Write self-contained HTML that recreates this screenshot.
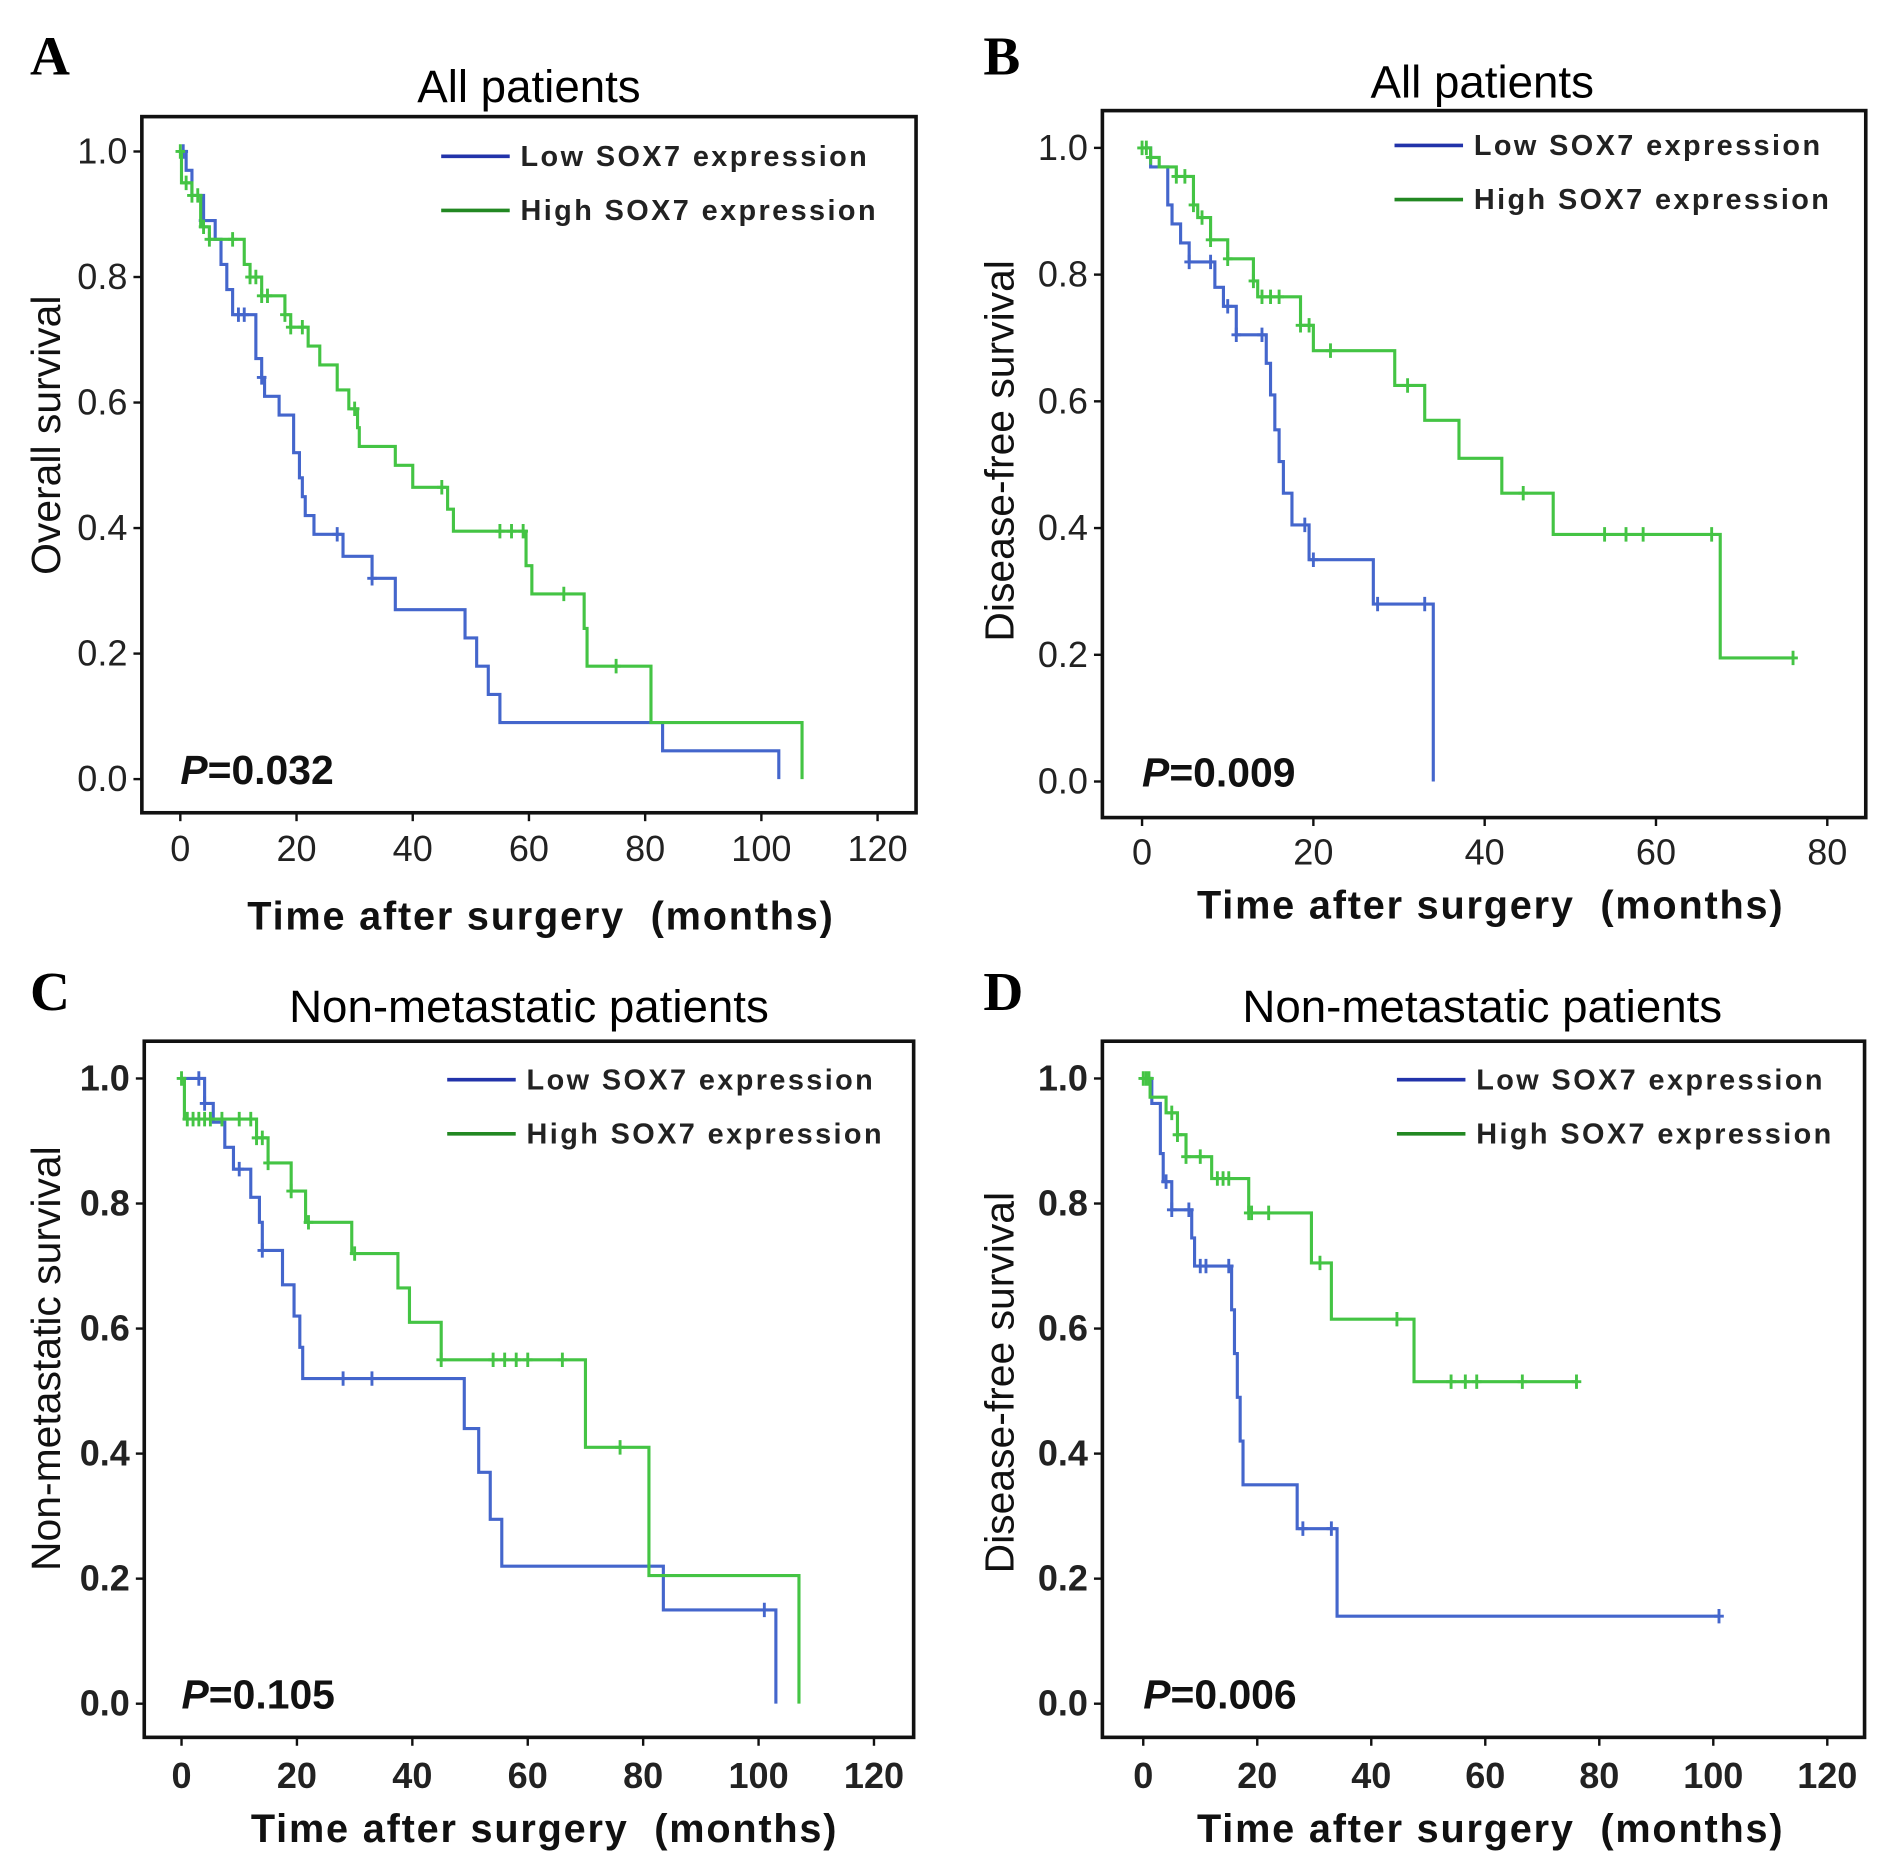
<!DOCTYPE html>
<html><head><meta charset="utf-8"><style>
html,body{margin:0;padding:0;background:#fff}
svg{display:block}
text{font-family:"Liberation Sans",sans-serif}
</style></head><body>
<svg id="fig" width="1885" height="1866" viewBox="0 0 1568 1552" preserveAspectRatio="none" xmlns="http://www.w3.org/2000/svg"></svg>
<script>
// ---- Panel A data ----
const aLowT=[0,1,2,4,6,7,8,9,13,14,14.5,17,19.5,20.5,21,21.5,23,28,33,37,49,51,53,55,83,103];
const aLowS=[1,0.97,0.93,0.89,0.86,0.82,0.78,0.74,0.67,0.64,0.61,0.58,0.52,0.48,0.45,0.42,0.39,0.355,0.32,0.27,0.225,0.18,0.135,0.09,0.045,0];
const aLowC=[0.5,4,10,11,14,27,33];
const aHighT=[0,0.2,2,3.5,5,11,12,14,18,19,22,24,27,29,30.5,30.8,37,40,46,47,59.5,60.5,69.5,70,81,107];
const aHighS=[1,0.95,0.93,0.88,0.86,0.82,0.8,0.77,0.74,0.72,0.69,0.66,0.62,0.59,0.56,0.53,0.5,0.465,0.43,0.395,0.34,0.295,0.24,0.18,0.09,0];
const aHighC=[0,1,2,3,4,5,9,12,13,14,15,18,19,21,30,45,55,57,59,66,75];
// ---- Panel B data ----
const bLowT=[0,1,3,3.5,4.5,5.5,8.5,9.5,11,14.5,15,15.5,16,16.5,17.5,19.5,27,34];
const bLowS=[1,0.97,0.91,0.88,0.85,0.82,0.78,0.75,0.705,0.66,0.61,0.555,0.505,0.455,0.405,0.35,0.28,0];
const bLowC=[5.5,8,10,11,14,19,20,27.5,33];
const bHighT=[0,1,2,4,6,6.5,8,10,13,13.5,18.5,20,29.5,33,37,42,48,67.5];
const bHighS=[1,0.985,0.97,0.955,0.91,0.89,0.855,0.825,0.79,0.765,0.72,0.68,0.625,0.57,0.51,0.455,0.39,0.195];
const bHighC=[0,0.5,1,4,5,6,7,8,10,13,14,15,16,18.5,19.5,22,31,44.5,54,56.5,58.5,66.5,76];
// ---- Panel C data ----
const cLowT=[0,4,5.5,7.5,9,12,13.5,14,17.5,19.5,20.5,21,49,51.5,53.5,55.5,83.5,103];
const cLowS=[1,0.96,0.93,0.89,0.855,0.81,0.77,0.725,0.67,0.62,0.57,0.52,0.44,0.37,0.295,0.22,0.15,0];
const cLowC=[3,4,10,14,28,33,101];
const cHighT=[0,0.5,13,15,19,21.5,29.5,37.5,39.5,45,70,81,107];
const cHighS=[1,0.935,0.905,0.865,0.82,0.77,0.72,0.665,0.61,0.55,0.41,0.205,0];
const cHighC=[0,1,2,3,4,5,7,10,12,13,14,15,19,22,30,45,54,56,58,60,66,76];
// ---- Panel D data ----
const dLowT=[0,1.5,3,3.5,5,8.5,9,15.5,16,16.5,17,17.5,27,34];
const dLowS=[1,0.96,0.88,0.835,0.79,0.745,0.7,0.63,0.56,0.49,0.42,0.35,0.28,0.14];
const dLowC=[4,5,8,10,11,15,28,33,101];
const dHighT=[0,1.2,4,6,7.5,12,18.5,29.5,33,47.5];
const dHighS=[1,0.97,0.945,0.91,0.875,0.84,0.785,0.705,0.615,0.515];
const dHighC=[0,0.5,1,5,6,7.5,10,13,14,15,18.5,19,22,31,44.5,54,56.5,58.5,66.5,76];
// ---- tick labels ----
const yTicks=[0,0.2,0.4,0.6,0.8,1.0];
const xTicks120=[0,20,40,60,80,100,120];
const xTicks80=[0,20,40,60,80];

const NS="http://www.w3.org/2000/svg";
const svg=document.getElementById('fig');
function mk(tag,attrs,parent,txt){const e=document.createElementNS(NS,tag);for(const k in attrs)e.setAttribute(k,attrs[k]);if(txt!==undefined)e.textContent=txt;(parent||svg).appendChild(e);return e;}

const panels=[
 {id:'a',letter:'A',title:'All patients',ylab:'Overall survival',p:'=0.032',box:[118,97,762,676],x0:150,x1:730,xmax:120,y1:126,y0:648,xt:xTicks120,bold:false,
  low:[aLowT,aLowS,aLowC],high:[aHighT,aHighS,aHighC],endLow:103,endHigh:107,leg:[367,130],tx:440,ty:85,ylx:50,yly:362,xlx:450,xly:773,lx:25,ly:62,tkY:716},
 {id:'b',letter:'B',title:'All patients',ylab:'Disease-free survival',p:'=0.009',box:[917,92,1552,680],x0:950,x1:1520,xmax:80,y1:123,y0:650,xt:xTicks80,bold:false,
  low:[bLowT,bLowS,bLowC],high:[bHighT,bHighS,bHighC],endLow:34,endHigh:76,leg:[1160,121],tx:1233,ty:81,ylx:843,yly:375,xlx:1240,xly:764,lx:818,ly:62,tkY:719},
 {id:'c',letter:'C',title:'Non-metastatic patients',ylab:'Non-metastatic survival',p:'=0.105',box:[120,866,760,1445],x0:151,x1:727,xmax:120,y1:897,y0:1417,xt:xTicks120,bold:true,
  low:[cLowT,cLowS,cLowC],high:[cHighT,cHighS,cHighC],endLow:103,endHigh:107,leg:[372,898],tx:440,ty:850,ylx:50,yly:1130,xlx:453,xly:1532,lx:25,ly:840,tkY:1487},
 {id:'d',letter:'D',title:'Non-metastatic patients',ylab:'Disease-free survival',p:'=0.006',box:[917,866,1551,1445],x0:951,x1:1520,xmax:120,y1:897,y0:1417,xt:xTicks120,bold:true,
  low:[dLowT,dLowS,dLowC],high:[dHighT,dHighS,dHighC],endLow:101,endHigh:76,leg:[1162,898],tx:1233,ty:850,ylx:843,yly:1150,xlx:1240,xly:1532,lx:818,ly:840,tkY:1487}
];

panels.forEach(P=>{
 const g=mk('g',{});
 
 
 const X=t=>P.x0+(P.x1-P.x0)*t/P.xmax;
 const Y=s=>P.y0+(P.y1-P.y0)*s;
 const L=mk('text',{x:P.lx,y:P.ly,style:'font-family:"Liberation Serif",serif;font-weight:bold;font-size:46px'},g,P.letter);
 
 const T=mk('text',{x:P.tx,y:P.ty,'text-anchor':'middle','font-size':38},g,P.title);
 
 const b=P.box;
 const R=mk('rect',{x:b[0],y:b[1],width:b[2]-b[0],height:b[3]-b[1],fill:'none',stroke:'#111','stroke-width':3},g);
 
 yTicks.forEach(v=>{
  const y=Y(v);
  const tk=mk('line',{x1:b[0]-7,x2:b[0],y1:y,y2:y,stroke:'#111','stroke-width':2},g);
  
  const tl=mk('text',{x:b[0]-12,y:y+10,'text-anchor':'end','font-size':30,'font-weight':P.bold?'bold':'normal',fill:'#222'},g,v.toFixed(1));
  
 });
 P.xt.forEach(v=>{
  const x=X(v);
  const tk=mk('line',{x1:x,x2:x,y1:b[3],y2:b[3]+7,stroke:'#111','stroke-width':2},g);
  
  const tl=mk('text',{x:x,y:P.tkY,'text-anchor':'middle','font-size':30,'font-weight':P.bold?'bold':'normal',fill:'#222'},g,String(v));
  
 });
 const yl=mk('text',{x:0,y:0,'text-anchor':'middle','font-size':34,transform:`translate(${P.ylx},${P.yly}) rotate(-90)`,fill:'#111'},g,P.ylab);
 
 const xl=mk('text',{x:P.xlx,y:P.xly,'text-anchor':'middle','font-size':33,'font-weight':'bold','letter-spacing':'1.5',fill:'#111'},g,'Time after surgery\u00a0 (months)');
 
 const pt=mk('text',{x:X(0),y:P.y0+4,'font-size':34,'font-weight':'bold',fill:'#111'},g);
 
 mk('tspan',{'font-style':'italic'},pt,'P');mk('tspan',{},pt,P.p);
 function series(data,end,color,name){
  const [ts,ss,cs]=data;
  let d=`M${X(ts[0])},${Y(ss[0])}`;
  for(let i=1;i<ts.length;i++){d+=` H${X(ts[i])} V${Y(ss[i])}`;}
  d+=` H${X(end)}`;
  const p=mk('path',{d:d,fill:'none',stroke:color,'stroke-width':2.6},g);
  
  cs.forEach(c=>{
   let s=ss[0];for(let i=0;i<ts.length;i++){if(ts[i]<=c)s=ss[i];}
   const x=X(c),y=Y(s);
   const m=mk('path',{d:`M${x},${y-6}V${y+6}M${x-4},${y}H${x+4}`,stroke:color,'stroke-width':2.4},g);
   
  });
 }
 series(P.low,P.endLow,'#4466cc','low-sox7');
 series(P.high,P.endHigh,'#44c444','high-sox7');
 const lx=P.leg[0],ly=P.leg[1];
 [['Low SOX7 expression','#2233aa',0,'legend-entry-low'],['High SOX7 expression','#228822',45,'legend-entry-high']].forEach(e=>{
  const lg=mk('g',{},g);
  
  mk('line',{x1:lx,x2:lx+57,y1:ly+e[2],y2:ly+e[2],stroke:e[1],'stroke-width':3},lg);
  mk('text',{x:lx+66,y:ly+e[2]+8,'font-size':24,'font-weight':'bold','letter-spacing':'2',fill:'#222'},lg,e[0]);
 });
});
</script>
</body></html>
